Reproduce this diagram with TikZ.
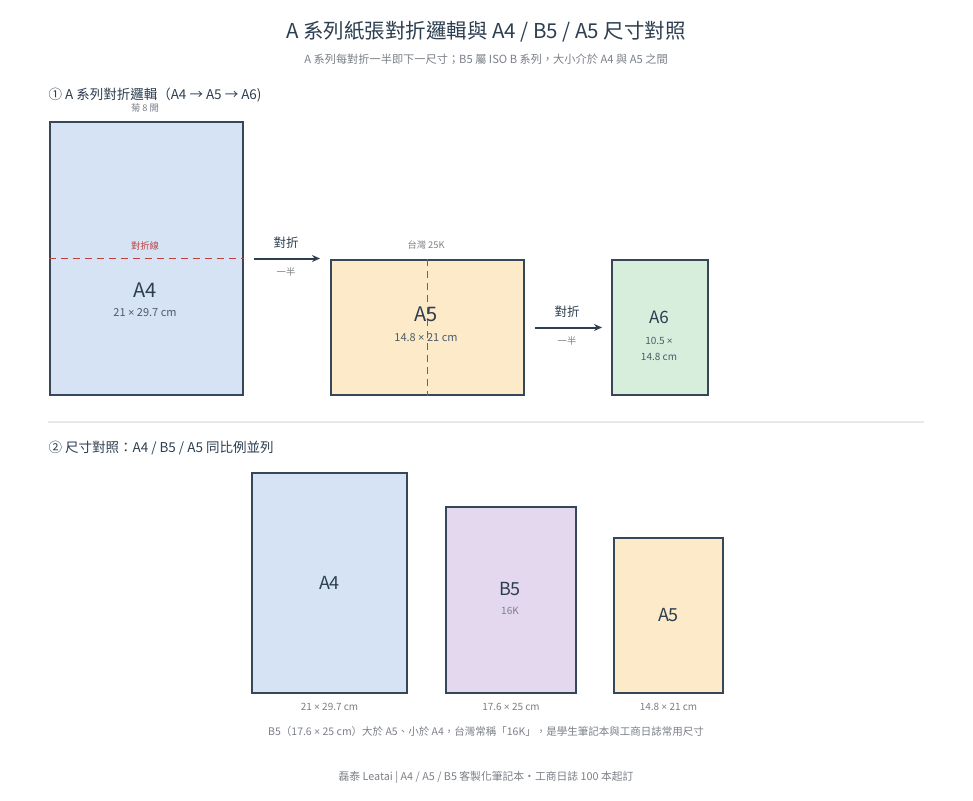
\documentclass[tikz,border=0pt]{standalone}
\usepackage{fontspec}
\setmainfont{Noto Sans CJK TC}
\newfontfamily\latinfont{Liberation Sans}
\newcommand{\by}{{\latinfont ×}}
\usetikzlibrary{arrows.meta}
\definecolor{ink}{HTML}{2C3E50}
\definecolor{edge}{HTML}{37475A}
\definecolor{muted}{HTML}{7A7F86}
\definecolor{foldred}{HTML}{C0403C}
\definecolor{fillA4}{HTML}{D5E3F5}
\definecolor{fillA5}{HTML}{FDEAC9}
\definecolor{fillA6}{HTML}{D7EEDD}
\definecolor{fillB5}{HTML}{E4D8EF}
\definecolor{sepgray}{HTML}{E6E8EB}

\begin{document}
\begin{tikzpicture}[x=1pt,y=-1pt,
		paper/.style={draw=edge, line width=2pt, inner sep=0pt, anchor=north west},
		sizename/.style={text=ink, font=\fontsize{20}{23}\selectfont},
		dims/.style={text=ink!85, font=\fontsize{11}{13}\selectfont},
		tinytext/.style={text=muted, font=\fontsize{9.3}{11}\selectfont},
		head/.style={text=ink, anchor=west, font=\fontsize{13.5}{16}\selectfont},
		fold/.style={draw=foldred, line width=1.7pt, dash pattern=on 7pt off 5pt},
		foldarrow/.style={draw=ink, line width=2pt, -{Stealth[length=8pt,width=7pt]}}]
		\useasboundingbox (0,0) rectangle (973,800);
		\node[text=ink, font=\fontsize{20.5}{24}\selectfont] at (486,32) (title){A 系列紙張對折邏輯與 A4 / B5 / A5 尺寸對照};
		\node[text=muted, font=\fontsize{11.2}{13}\selectfont] at (486,59) (subtitle){A 系列每對折一半即下一尺寸；B5 屬 ISO B 系列，大小介於 A4 與 A5 之間};
		\node[head] at (45,95) (head1){① A 系列對折邏輯（A4 → A5 → A6)};
		\node[tinytext] at (145,108) (kiku){菊 8 開};
		\node[paper, fill=fillA4, minimum width=193pt, minimum height=273pt] at (49,121) (a4big){};
		\node[tinytext, text=foldred] at (145,246) (foldlabel){對折線};
		\draw[fold] (a4big.west) -- (a4big.east);
		\node[sizename] at (145,290) (a4name){A4};
		\node[dims] at (145,313) (a4dims){21 \by{} 29.7 cm};
		\node[tinytext] at (426,245) (tw25k){台灣 25K};
		\node[paper, fill=fillA5, minimum width=193pt, minimum height=135pt] at (330,259) (a5big){};
		\draw[fold] (a5big.north) -- (a5big.south);
		\node[sizename] at (426,314) (a5name){A5};
		\node[dims] at (426,338) (a5dims){14.8 \by{} 21 cm};
		\node[paper, fill=fillA6, minimum width=96pt, minimum height=135pt] at (611,259) (a6big){};
		\node[sizename, font=\fontsize{17}{20}\selectfont] at (659,317) (a6name){A6};
		\node[dims, font=\fontsize{10}{12}\selectfont] at (659,341) (a6dimsa){10.5 \by};
		\node[dims, font=\fontsize{10}{12}\selectfont] at (659,357) (a6dimsb){14.8 cm};
		\draw[foldarrow] ([xshift=10pt]a4big.east) -- ([xshift=-10pt]a5big.west |- a4big.east);
		\node[text=ink, font=\fontsize{12.5}{15}\selectfont] at (286,243) (fold1){對折};
		\node[tinytext] at (286,272) (half1){一半};
		\draw[foldarrow] ([xshift=10pt]a5big.east) -- ([xshift=-9pt]a6big.west);
		\node[text=ink, font=\fontsize{12.5}{15}\selectfont] at (567,312) (fold2){對折};
		\node[tinytext] at (567,341) (half2){一半};
		\coordinate (ruleL) at (48,422);
		\coordinate (ruleR) at (924,422);
		\draw[sepgray, line width=1.2pt] (ruleL) -- (ruleR);
		\node[head] at (45,448) (head2){② 尺寸對照：A4 / B5 / A5 同比例並列};
		\node[paper, fill=fillA4, minimum width=155pt, minimum height=220pt] at (251,472) (a4cmp){};
		\node[paper, fill=fillB5, minimum width=130pt, minimum height=186pt] at (445,506) (b5cmp){};
		\node[paper, fill=fillA5, minimum width=109pt, minimum height=155pt] at (613,537) (a5cmp){};
		\node[sizename, font=\fontsize{18}{21}\selectfont] at (a4cmp.center) (a4cmpname){A4};
		\node[sizename, font=\fontsize{18}{21}\selectfont] at (510,589) (b5cmpname){B5};
		\node[tinytext, font=\fontsize{10}{12}\selectfont] at (510,611) (b5k){16K};
		\node[sizename, font=\fontsize{18}{21}\selectfont] at (a5cmp.center) (a5cmpname){A5};
		\node[tinytext, font=\fontsize{10}{12}\selectfont] at (a4cmp.south |- 0,707) (a4cmpdims){21 \by{} 29.7 cm};
		\node[tinytext, font=\fontsize{10}{12}\selectfont] at (b5cmp.south |- 0,707) (b5cmpdims){17.6 \by{} 25 cm};
		\node[tinytext, font=\fontsize{10}{12}\selectfont] at (a5cmp.south |- 0,707) (a5cmpdims){14.8 \by{} 21 cm};
		\node[tinytext, font=\fontsize{10.5}{12}\selectfont] at (486,731) (note){B5（17.6 \by{} 25 cm）大於 A5、小於 A4，台灣常稱「16K」，是學生筆記本與工商日誌常用尺寸};
		\node[tinytext, font=\fontsize{10.8}{12}\selectfont] at (486,777) (footer){磊泰 Leatai | A4 / A5 / B5 客製化筆記本・工商日誌 100 本起訂};
	\end{tikzpicture}
\end{document}
